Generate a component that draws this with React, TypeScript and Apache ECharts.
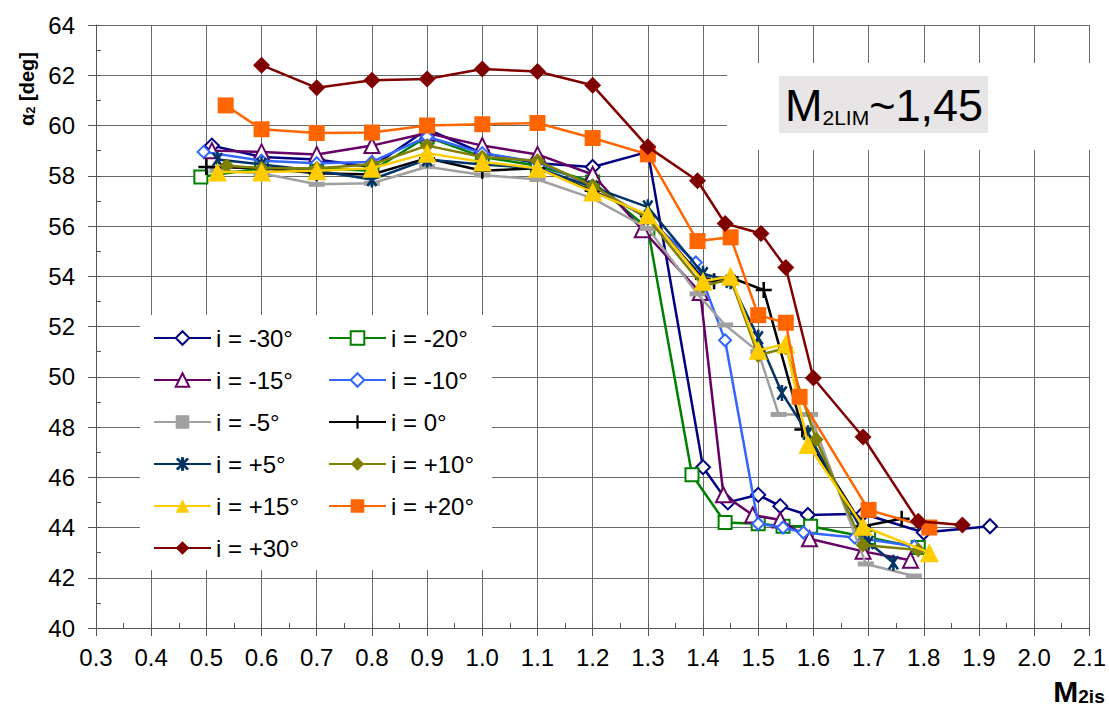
import React, { useEffect, useRef } from "react";
import * as echarts from "echarts";

const FONT = '"Liberation Sans", Arial, Helvetica, sans-serif';

// Axis ranges / ticks
const xMin = 0.3;
const xMax = 2.1;
const xStep = 0.1;
const yMin = 40;
const yMax = 64;
const yStep = 2;

// Series names
const seriesNames = [
  "i = -30°",
  "i = -20°",
  "i = -15°",
  "i = -10°",
  "i = -5°",
  "i = 0°",
  "i = +5°",
  "i = +10°",
  "i = +15°",
  "i = +20°",
  "i = +30°",
];

// [M2is, alpha2]
const iM30: [number, number][] = [
  [0.51, 59.2], [0.6, 58.75], [0.7, 58.65], [0.8, 58.35], [0.9, 59.85], [1.0, 58.9],
  [1.1, 58.5], [1.2, 58.35], [1.3, 58.95], [1.4, 46.4], [1.445, 45.0], [1.5, 45.3],
  [1.54, 44.85], [1.59, 44.5], [1.69, 44.55], [1.8, 43.8], [1.92, 44.05],
];
const iM20: [number, number][] = [
  [0.49, 57.95], [0.6, 58.3], [0.7, 58.3], [0.8, 58.2], [0.9, 59.55], [1.0, 58.75],
  [1.1, 58.4], [1.2, 57.75], [1.3, 55.9], [1.38, 46.1], [1.44, 44.2], [1.5, 44.15],
  [1.545, 44.05], [1.595, 44.05], [1.7, 43.6], [1.79, 43.2],
];
const iM15: [number, number][] = [
  [0.51, 59.0], [0.6, 58.95], [0.7, 58.85], [0.8, 59.2], [0.9, 59.7], [1.0, 59.2],
  [1.1, 58.85], [1.2, 58.05], [1.29, 55.85], [1.395, 53.35], [1.437, 45.3], [1.49, 44.5],
  [1.54, 44.3], [1.593, 43.55], [1.69, 43.05], [1.776, 42.7],
];
const iM10: [number, number][] = [
  [0.495, 58.95], [0.6, 58.6], [0.7, 58.5], [0.8, 58.55], [0.9, 59.55], [1.0, 58.9],
  [1.1, 58.55], [1.2, 57.6], [1.3, 56.3], [1.387, 54.55], [1.44, 51.45], [1.5, 44.15],
  [1.545, 44.0], [1.582, 43.8], [1.675, 43.6], [1.783, 43.25],
];
const iM5: [number, number][] = [
  [0.52, 58.2], [0.6, 58.1], [0.7, 57.66], [0.8, 57.7], [0.9, 58.36], [1.0, 58.03],
  [1.1, 57.85], [1.2, 57.1], [1.3, 55.9], [1.39, 53.3], [1.44, 52.06], [1.5, 51.0],
  [1.537, 48.5], [1.594, 48.5], [1.695, 42.55], [1.782, 42.07],
];
const i0: [number, number][] = [
  [0.5, 58.35], [0.6, 58.3], [0.7, 58.1], [0.8, 58.05], [0.9, 58.7], [1.0, 58.2],
  [1.1, 58.3], [1.2, 57.4], [1.3, 56.4], [1.4, 53.9], [1.42, 53.8], [1.45, 53.95],
  [1.51, 53.45], [1.58, 47.9], [1.69, 44.05], [1.76, 44.35],
];
const iP5: [number, number][] = [
  [0.52, 58.65], [0.6, 58.45], [0.7, 58.2], [0.8, 57.85], [0.9, 58.65], [1.0, 58.45],
  [1.1, 58.3], [1.2, 57.55], [1.3, 56.75], [1.4, 54.1], [1.45, 53.8], [1.5, 51.55],
  [1.543, 49.35], [1.59, 47.75], [1.7, 43.4], [1.745, 42.6],
];
const iP10: [number, number][] = [
  [0.537, 58.4], [0.6, 58.3], [0.7, 58.3], [0.8, 58.45], [0.9, 59.2], [1.0, 58.75],
  [1.1, 58.6], [1.2, 57.6], [1.3, 56.3], [1.4, 53.6], [1.45, 53.9], [1.5, 50.85],
  [1.55, 51.15], [1.605, 47.5], [1.69, 43.3], [1.79, 43.1],
];
const iP15: [number, number][] = [
  [0.52, 58.15], [0.6, 58.15], [0.7, 58.2], [0.8, 58.3], [0.9, 58.9], [1.0, 58.55],
  [1.1, 58.3], [1.2, 57.35], [1.3, 56.45], [1.4, 53.8], [1.45, 54.0], [1.5, 51.05],
  [1.55, 51.3], [1.59, 47.3], [1.69, 44.05], [1.81, 43.0],
];
const iP20: [number, number][] = [
  [0.535, 60.8], [0.6, 59.85], [0.7, 59.7], [0.8, 59.72], [0.9, 60.0], [1.0, 60.05],
  [1.1, 60.1], [1.2, 59.5], [1.3, 58.85], [1.39, 55.4], [1.45, 55.55], [1.5, 52.45],
  [1.55, 52.15], [1.575, 49.2], [1.7, 44.7], [1.81, 44.0],
];
const iP30: [number, number][] = [
  [0.6, 62.4], [0.7, 61.5], [0.8, 61.8], [0.9, 61.85], [1.0, 62.25], [1.1, 62.15],
  [1.2, 61.6], [1.3, 59.15], [1.39, 57.8], [1.44, 56.1], [1.505, 55.7], [1.55, 54.35],
  [1.6, 49.95], [1.69, 47.6], [1.79, 44.25], [1.87, 44.1],
];

const seriesData = [iM30, iM20, iM15, iM10, iM5, i0, iP5, iP10, iP15, iP20, iP30];

const colors = [
  "#000080", "#008000", "#660066", "#3366ff", "#a0a0a0", "#000000",
  "#003366", "#808000", "#ffcc00", "#ff6600", "#800000",
];

const PLUS = "path://M4.2,0H5.8V4.2H10V5.8H5.8V10H4.2V5.8H0V4.2H4.2Z";
const ASTER =
  "path://M8.4,0H11.6V20H8.4Z M2.95,2.73L5.57,0.89L17.05,17.27L14.43,19.11Z M17.05,2.73L5.57,19.11L2.95,17.27L14.43,0.89Z";

const symbols: any[] = [
  "emptyDiamond", "emptyRect", "emptyTriangle", "emptyDiamond", "rect", PLUS,
  ASTER, "diamond", "triangle", "rect", "diamond",
];
const symbolSizes: any[] = [14, 13, 15, 12, [16, 5], 16, 16, 15, 19, 16, 17];

export default function App() {
  const ref = useRef<HTMLDivElement>(null);
  useEffect(() => {
    const chart = echarts.init(ref.current!, null, { renderer: "svg" });

    const series = seriesNames.map((name, k) => {
      const empty = typeof symbols[k] === "string" && symbols[k].indexOf("empty") === 0;
      return {
        name,
        type: "line",
        data: seriesData[k],
        symbol: symbols[k],
        symbolSize: symbolSizes[k],
        symbolKeepAspect: k === 6,
        lineStyle: { color: colors[k], width: 2.5 },
        itemStyle: { color: colors[k], borderWidth: empty ? 2 : 0 },
        emphasis: { disabled: true },
        z: 2 + k * 0.01,
        silent: true,
      };
    });

    const legendBase = {
      orient: "vertical",
      top: 326,
      padding: 0,
      itemWidth: 57,
      itemHeight: 17,
      itemGap: 18,
      selectedMode: false,
      textStyle: { fontSize: 24, color: "#000", fontFamily: FONT },
      z: 5,
    };

    const option: any = {
      animation: false,
      backgroundColor: "#ffffff",
      textStyle: { fontFamily: FONT },
      grid: { left: 96, right: 9, top: 25, bottom: 87, containLabel: false },
      xAxis: [
        {
          type: "value",
          min: xMin,
          max: xMax,
          interval: xStep,
          axisLine: { show: true, lineStyle: { color: "#555", width: 1 } },
          axisTick: { show: true, inside: false, length: 8, lineStyle: { color: "#555" } },
          axisLabel: {
            fontSize: 24,
            color: "#000",
            margin: 17,
            fontFamily: FONT,
            formatter: (v: number) => v.toFixed(1),
          },
          splitLine: { show: true, lineStyle: { color: "#6a6a6a", width: 1 } },
        },
        {
          type: "value",
          position: "bottom",
          min: xMin,
          max: xMax,
          interval: xStep / 2,
          axisLine: { show: false },
          axisTick: { show: true, inside: true, length: 5, lineStyle: { color: "#555" } },
          axisLabel: { show: false },
          splitLine: { show: false },
        },
      ],
      yAxis: [
        {
          type: "value",
          min: yMin,
          max: yMax,
          interval: yStep,
          axisLine: { show: true, lineStyle: { color: "#555", width: 1 } },
          axisTick: { show: true, inside: false, length: 8, lineStyle: { color: "#555" } },
          axisLabel: { fontSize: 24, color: "#000", margin: 21, fontFamily: FONT },
          splitLine: { show: true, lineStyle: { color: "#6a6a6a", width: 1 } },
        },
        {
          type: "value",
          position: "left",
          min: yMin,
          max: yMax,
          interval: yStep / 2,
          axisLine: { show: false },
          axisTick: { show: true, inside: true, length: 5, lineStyle: { color: "#555" } },
          axisLabel: { show: false },
          splitLine: { show: false },
        },
      ],
      legend: [
        {
          ...legendBase,
          left: 153,
          data: ["i = -30°", "i = -15°", "i = -5°", "i = +5°", "i = +15°", "i = +30°"],
        },
        {
          ...legendBase,
          left: 328,
          data: ["i = -20°", "i = -10°", "i = 0°", "i = +10°", "i = +20°"],
        },
      ],
      graphic: [
        // legend background
        {
          type: "rect",
          z: 3,
          shape: { x: 140, y: 315, width: 352, height: 255 },
          style: { fill: "#ffffff" },
        },
        // annotation clearing area
        {
          type: "rect",
          z: 3,
          shape: { x: 727, y: 63, width: 373, height: 87 },
          style: { fill: "#ffffff" },
        },
        {
          type: "rect",
          z: 4,
          shape: { x: 779, y: 76, width: 209, height: 57 },
          style: { fill: "#e7e5e5" },
        },
        {
          type: "text",
          z: 5,
          x: 884,
          y: 105,
          style: {
            text: "{b|M}{s|2LIM}{b|~1,45}",
            align: "center",
            verticalAlign: "middle",
            rich: {
              b: { fontSize: 45, fontFamily: FONT, fill: "#000", verticalAlign: "bottom" },
              s: { fontSize: 21, fontFamily: FONT, fill: "#000", verticalAlign: "bottom" },
            },
          },
        },
        // y axis title
        {
          type: "group",
          x: 27,
          y: 89,
          rotation: Math.PI / 2,
          z: 5,
          children: [
            {
              type: "text",
              z: 5,
              x: 0,
              y: 0,
              style: {
                text: "{a|α}{s|2}{a| [deg]}",
                align: "center",
                verticalAlign: "middle",
                rich: {
                  a: { fontSize: 20, fontWeight: "bold", fontFamily: FONT, fill: "#000", verticalAlign: "bottom" },
                  s: { fontSize: 13, fontWeight: "bold", fontFamily: FONT, fill: "#000", verticalAlign: "bottom" },
                },
              },
            },
          ],
        },
        // x axis title
        {
          type: "text",
          z: 5,
          x: 1079,
          y: 691,
          style: {
            text: "{a|M}{s|2is}",
            align: "center",
            verticalAlign: "middle",
            rich: {
              a: { fontSize: 30, fontWeight: "bold", fontFamily: FONT, fill: "#000", verticalAlign: "bottom" },
              s: { fontSize: 19, fontWeight: "bold", fontFamily: FONT, fill: "#000", verticalAlign: "bottom" },
            },
          },
        },
      ],
      series,
    };

    chart.setOption(option);
    return () => chart.dispose();
  }, []);

  return (
    <div
      ref={ref}
      style={{ position: "fixed", left: 0, top: 0, width: 1109, height: 715, background: "#fff" }}
    />
  );
}
